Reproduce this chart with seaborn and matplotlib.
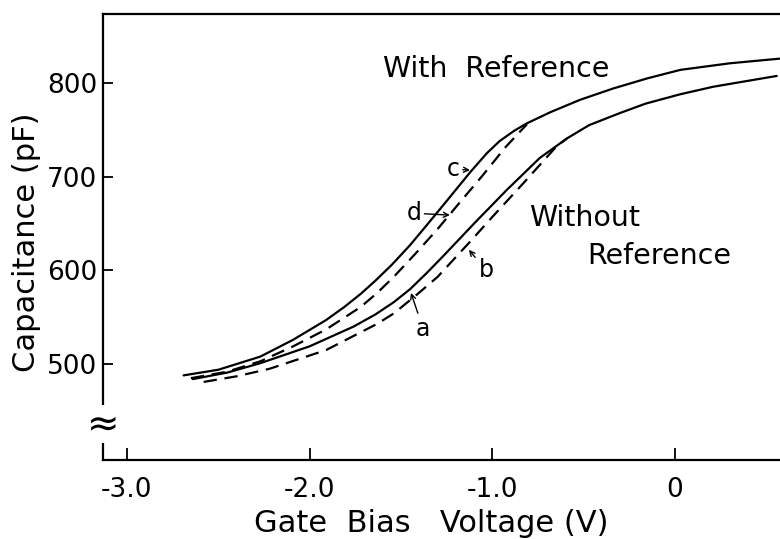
import matplotlib
matplotlib.use("Agg")
import matplotlib.pyplot as plt
import matplotlib.transforms as mtransforms
import seaborn as sns

# ---- data (Gate bias V, capacitance pF) ----
# c: with reference, solid
c_v = [-2.69, -2.50, -2.27, -2.09, -1.91, -1.81, -1.72, -1.64, -1.55, -1.45, -1.36,
       -1.25, -1.12, -1.03, -0.96, -0.88, -0.81, -0.68, -0.52, -0.34, -0.15,
       0.03, 0.30, 0.575]
c_C = [488, 494, 508, 526, 547, 561, 575, 589, 606, 627, 648,
       674, 705, 725, 738, 749, 757, 769, 782, 794, 805,
       814, 821, 826]
# d: with reference, dashed
d_v = [-2.65, -2.45, -2.27, -2.09, -1.91, -1.72, -1.63, -1.54, -1.42, -1.30,
       -1.18, -1.05, -0.93, -0.81]
d_C = [485, 492, 503, 519, 537, 561, 576, 593, 618, 644,
       672, 702, 731, 756]
# a: without reference, solid
a_v = [-2.64, -2.45, -2.27, -2.00, -1.76, -1.64, -1.54, -1.45, -1.36, -1.27,
       -1.09, -0.98, -0.92, -0.74, -0.59, -0.47, -0.30, -0.16, 0.03, 0.21, 0.557]
a_C = [484, 491, 501, 519, 540, 553, 566, 580, 597, 615,
       652, 674, 686, 720, 741, 755, 768, 778, 788, 796, 807.5]
# b: without reference, dashed
b_v = [-2.58, -2.40, -2.22, -1.91, -1.63, -1.54, -1.42, -1.30, -1.12, -1.00,
       -0.83, -0.65, -0.59]
b_C = [481, 487, 495, 515, 543, 554, 573, 593, 631, 657,
       693, 732, 741]

x_ticks = [-3.0, -2.0, -1.0, 0.0]
x_ticklabels = ["-3.0", "-2.0", "-1.0", "0"]
y_ticks = [500, 600, 700, 800]
y_ticklabels = ["500", "600", "700", "800"]

sns.set_theme(style="white")
plt.rcParams['font.family'] = ['DejaVu Sans']
plt.rcParams['text.color'] = 'black'

W, H = 780, 539
fig = plt.figure(figsize=(W / 100, H / 100), dpi=100)
ax = fig.add_axes([103 / W, 1 - 460 / H, 1 - 103 / W, (460 - 14) / H])

dash = (0, (6, 3.5))
for v, C, ls in [(c_v, c_C, '-'), (d_v, d_C, dash), (a_v, a_C, '-'), (b_v, b_C, dash)]:
    sns.lineplot(x=v, y=C, ax=ax, color='black', lw=1.6, linestyle=ls,
                 sort=False, estimator=None)

ax.set_xlim(-3.131, 0.575)
ax.set_ylim(397.7, 873.6)
ax.set_xticks(x_ticks)
ax.set_xticklabels(x_ticklabels)
ax.set_yticks(y_ticks)
ax.set_yticklabels(y_ticklabels)
ax.spines['right'].set_visible(False)
for s in ['left', 'top', 'bottom']:
    ax.spines[s].set_linewidth(1.6)
    ax.spines[s].set_color('black')
ax.tick_params(axis='y', direction='in', length=7, width=1.3, pad=4,
               labelsize=19, colors='black', left=True)
ax.tick_params(axis='x', direction='in', length=9, width=1.3, pad=12,
               labelsize=19, colors='black', bottom=True)
ax.set_xlabel('')
ax.set_ylabel('')

# axis break mark on the y axis
trans = mtransforms.blended_transform_factory(ax.transAxes, ax.transData)
ax.text(0, 436, "≈", transform=trans, ha='center', va='center', fontsize=28,
        color='black', bbox=dict(fc='white', ec='none', pad=0.2), zorder=6,
        clip_on=False)

# text labels
ax.text(-0.977, 815, "With  Reference", ha='center', va='center', fontsize=20.5)
ax.text(-0.493, 656, "Without", ha='center', va='center', fontsize=20.5)
ax.text(-0.088, 615, "Reference", ha='center', va='center', fontsize=20.5)

arrow = dict(arrowstyle='->', color='black', lw=1.0, shrinkA=0, shrinkB=0,
             mutation_scale=9)
ax.annotate("c", xy=(-1.122, 707), xytext=(-1.215, 708), ha='center',
            va='center', fontsize=17, arrowprops=arrow)
ax.annotate("d", xy=(-1.232, 659), xytext=(-1.43, 661), ha='center',
            va='center', fontsize=17, arrowprops=arrow)
ax.annotate("b", xy=(-1.128, 622), xytext=(-1.035, 600), ha='center',
            va='center', fontsize=17, arrowprops=arrow)
ax.annotate("a", xy=(-1.445, 576), xytext=(-1.379, 538), ha='center',
            va='center', fontsize=17, arrowprops=arrow)

fig.text(431 / W, 1 - 524 / H, "Gate  Bias   Voltage (V)", ha='center',
         va='center', fontsize=22)
fig.text(27 / W, 1 - 242 / H, "Capacitance (pF)", ha='center', va='center',
         rotation=90, fontsize=22)

fig.savefig("out.png", dpi=100, facecolor='white')
